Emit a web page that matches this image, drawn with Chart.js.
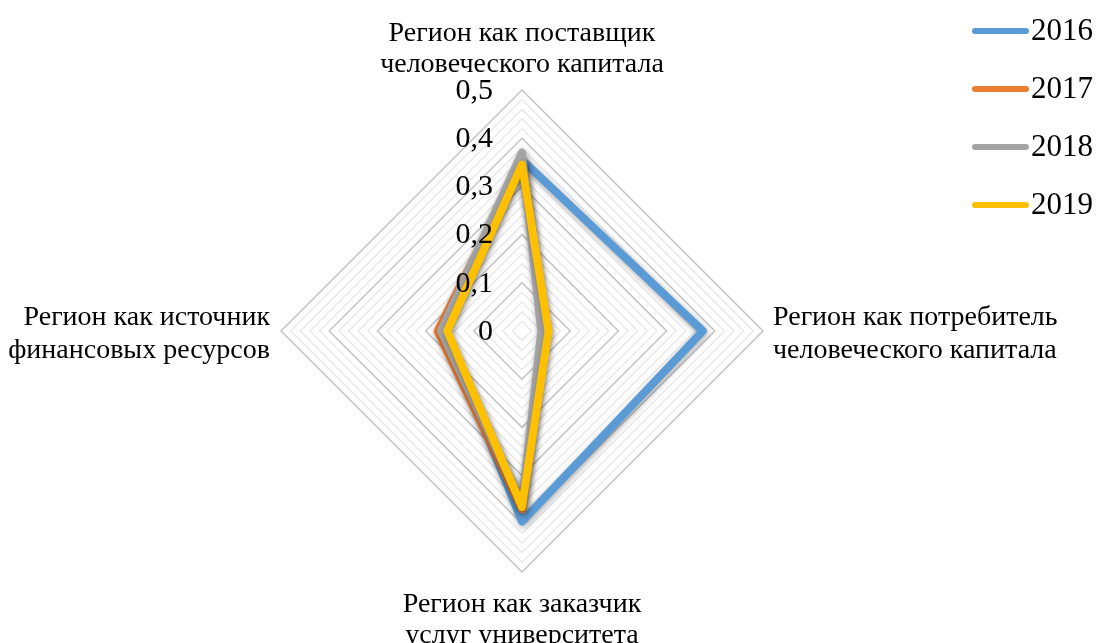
<!DOCTYPE html>
<html>
<head>
<meta charset="utf-8">
<script src="https://cdn.jsdelivr.net/npm/chart.js@4.4.1/dist/chart.umd.min.js"></script>
<style>
  html, body { margin: 0; padding: 0; background: #fff; }
  canvas { display: block; }
</style>
</head>
<body>
<canvas id="myChart" width="1099" height="643"></canvas>
<script>
// axis labels, clockwise from the top
var categories = [
  ['Регион как поставщик', 'человеческого капитала'],
  ['Регион как потребитель', 'человеческого капитала'],
  ['Регион как заказчик', 'услуг университета'],
  ['Регион как источник', 'финансовых ресурсов']
];
var years = ['2016', '2017', '2018', '2019'];
var values2016 = [0.355, 0.375, 0.395, 0.16];
var values2017 = [0.35, 0.05, 0.37, 0.175];
var values2018 = [0.37, 0.04, 0.36, 0.168];
var values2019 = [0.345, 0.055, 0.365, 0.155];
var tickValues = [0, 0.1, 0.2, 0.3, 0.4, 0.5];
var tickLabels = ['0', '0,1', '0,2', '0,3', '0,4', '0,5'];

var colors = ['#5B9BD5', '#ED7D31', '#A5A5A5', '#FFC000'];
var serif = '"Liberation Serif", "Times New Roman", serif';

function isMajor(v) {
  return Math.abs(v * 10 - Math.round(v * 10)) < 1e-6;
}

// soft drop shadow under the lines, like the office chart
var shadowPlugin = {
  id: 'lineShadow',
  beforeDatasetsDraw: function (chart) {
    var ctx = chart.ctx;
    ctx.save();
    ctx.shadowColor = 'rgba(0,0,0,0.35)';
    ctx.shadowBlur = 6;
    ctx.shadowOffsetX = 1;
    ctx.shadowOffsetY = 2;
  },
  afterDatasetsDraw: function (chart) {
    chart.ctx.restore();
  }
};

// category labels, tick labels and legend
var textPlugin = {
  id: 'texts',
  afterDraw: function (chart) {
    var ctx = chart.ctx;
    var r = chart.scales.r;
    var R = r.drawingArea;
    ctx.save();
    ctx.fillStyle = '#000';

    // category labels
    ctx.font = '28px ' + serif;
    ctx.textBaseline = 'middle';
    var place = [
      { align: 'center', dx: 0, dy: [-56, -25] },
      { align: 'left', dx: 10, dy: [-13, 20] },
      { align: 'center', dx: 0, dy: [33, 64] },
      { align: 'right', dx: -11, dy: [-13, 20] }
    ];
    for (var i = 0; i < categories.length; i++) {
      var p = r.getPointPosition(i, R);
      ctx.textAlign = place[i].align;
      for (var k = 0; k < categories[i].length; k++) {
        ctx.fillText(categories[i][k], p.x + place[i].dx, p.y + place[i].dy[k]);
      }
    }

    // tick labels on the vertical axis
    ctx.font = '30px ' + serif;
    ctx.textAlign = 'right';
    for (var t = 0; t < tickValues.length; t++) {
      var d = r.getDistanceFromCenterForValue(tickValues[t]);
      ctx.fillText(tickLabels[t], r.xCenter - 29, r.yCenter - d + 1);
    }

    // legend
    ctx.font = '31px ' + serif;
    ctx.textAlign = 'left';
    ctx.lineWidth = 6;
    ctx.lineCap = 'round';
    for (var j = 0; j < years.length; j++) {
      var y = 31 + 58 * j;
      ctx.strokeStyle = colors[j];
      ctx.beginPath();
      ctx.moveTo(975, y);
      ctx.lineTo(1026, y);
      ctx.stroke();
      ctx.fillText(years[j], 1031, y + 1);
    }
    ctx.restore();
  }
};

function series(idx, data) {
  return {
    label: years[idx],
    data: data,
    borderColor: colors[idx],
    backgroundColor: colors[idx],
    borderWidth: 8,
    borderJoinStyle: 'round',
    borderCapStyle: 'round',
    fill: false,
    pointRadius: 0,
    pointHoverRadius: 0,
    order: 3 - idx
  };
}

var ctx = document.getElementById('myChart').getContext('2d');
var chart = new Chart(ctx, {
  type: 'radar',
  data: {
    labels: categories.map(function (c) { return c.join(' '); }),
    datasets: [
      series(0, values2016),
      series(1, values2017),
      series(2, values2018),
      series(3, values2019)
    ]
  },
  plugins: [shadowPlugin, textPlugin],
  options: {
    responsive: false,
    animation: false,
    layout: {
      padding: { left: 281, right: 336, top: 90, bottom: 71 }
    },
    plugins: {
      legend: { display: false },
      tooltip: { enabled: false }
    },
    scales: {
      r: {
        min: 0,
        max: 0.5,
        angleLines: { display: false },
        pointLabels: { display: false },
        ticks: { display: false, stepSize: 0.02 },
        grid: {
          circular: false,
          color: function (c) {
            return isMajor(c.tick.value) ? '#c4c4c4' : '#e6e6e6';
          },
          lineWidth: function (c) {
            return isMajor(c.tick.value) ? 1.5 : 1.2;
          }
        }
      }
    }
  }
});
</script>
</body>
</html>
